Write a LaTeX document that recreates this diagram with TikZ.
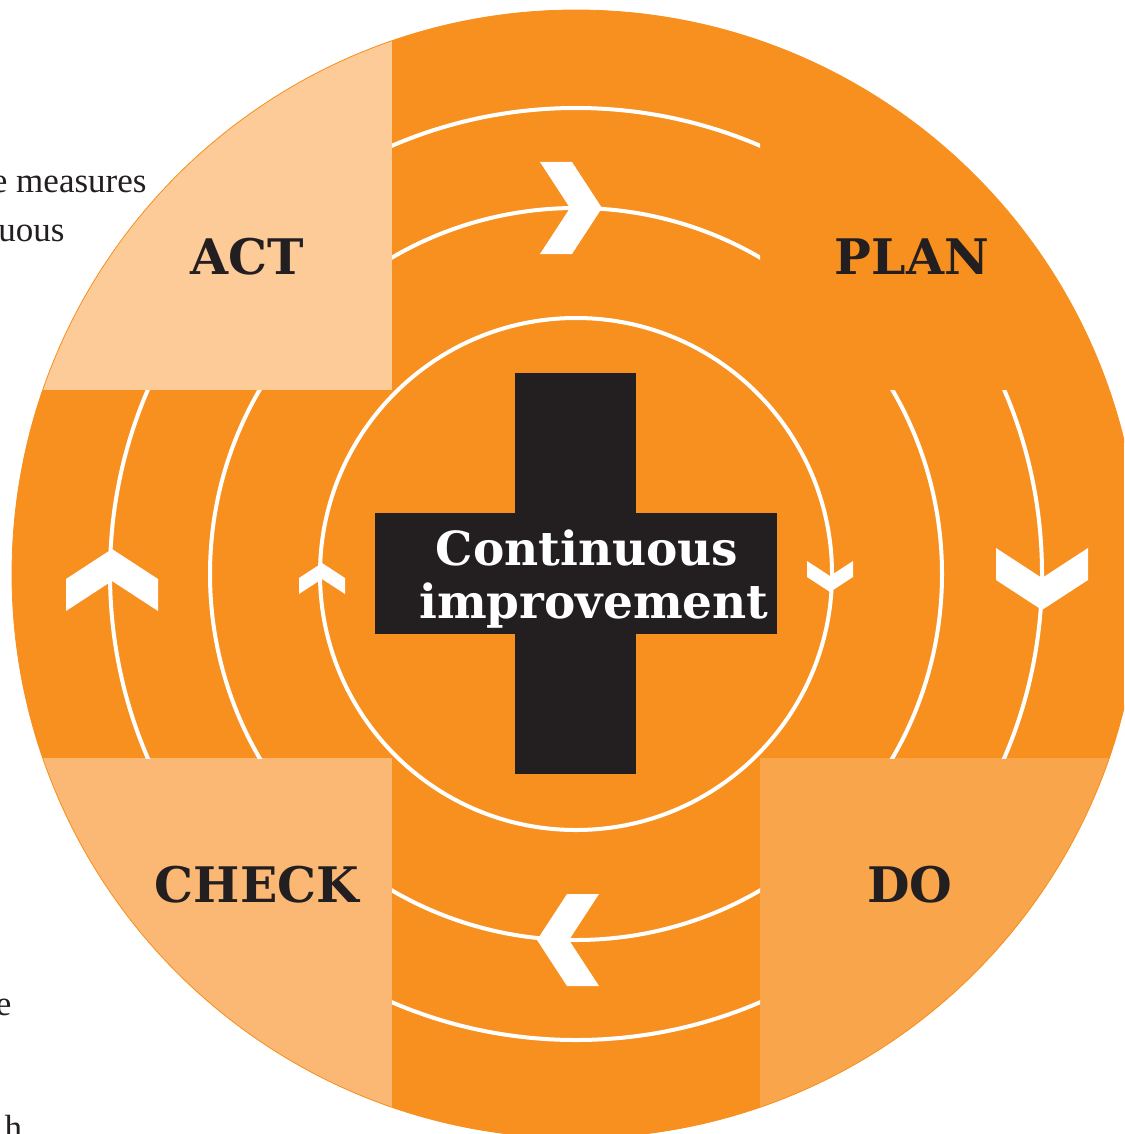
\documentclass[tikz,border=0pt]{standalone}
\usepackage{fontspec}
\usepackage{tikz}
\newfontfamily\phasefont{DejaVu Serif}
\newfontfamily\pagefont{Liberation Serif}
\definecolor{cycleorange}{HTML}{F7901E}
\definecolor{actfill}{HTML}{FDCB98}
\definecolor{checkfill}{HTML}{FBB875}
\definecolor{dofill}{HTML}{F9A54B}
\definecolor{inkblack}{HTML}{231F20}
\tikzset{
phase/.style={text=inkblack, font=\phasefont\bfseries\fontsize{49}{55}\selectfont, anchor=base}, % the four PDCA labels
centretext/.style={text=white, font=\phasefont\bfseries\fontsize{47}{53}\selectfont, anchor=base}, % text on the cross
track/.style={draw=white, line width=4pt}, % white circular paths
pagetext/.style={text=inkblack, font=\pagefont\fontsize{35}{48}\selectfont}, % cut off text of the page
chevron/.pic={\fill[white] (0,0) -- (-30,-46) -- (-62,-46) -- (-32,0) -- (-62,46) -- (-30,46) -- cycle;}, % arrow head on a path
}

\begin{document}
\begin{tikzpicture}[x=1pt, y=-1pt]
\useasboundingbox (0,0) rectangle (1124,1134);
\clip (0,0) rectangle (1124,1134);
\coordinate (hub) at (576,574);

% the disc and its four quarters
\begin{scope}
\clip (hub) circle (564pt);
\fill[cycleorange] (0,0) rectangle (1124,1134);
\fill[actfill] (0,0) rectangle (392,390);
\fill[checkfill] (0,758) rectangle (392,1134);
\fill[dofill] (760,758) rectangle (1124,1134);
\end{scope}
\draw[cycleorange, line width=0.8pt] (hub) circle (564pt);

% white paths
\begin{scope}
\clip (392,0) rectangle (760,1134);
\draw[track] (hub) circle (466pt) (hub) circle (366pt);
\end{scope}
\begin{scope}
\clip (0,390) rectangle (1124,758);
\draw[track] (hub) circle (466pt) (hub) circle (366pt);
\end{scope}
\draw[track] (hub) circle (256pt);

\pic at (602,208) {chevron};
\pic[rotate=180] at (537,940) {chevron};
\pic[rotate=-90] at (1042,610) {chevron};
\pic[rotate=90] at (112,549) {chevron};
\pic[rotate=-90, scale=0.5] at (830,592) {chevron};
\pic[rotate=90, scale=0.5] at (322,563) {chevron};

% the cross
\fill[inkblack] (515,373) rectangle (636,774);
\fill[inkblack] (375,513) rectangle (777,634);
\node[centretext] (cont) at (587,565) {Continuous};
\node[centretext] (impr) at (594,618) {improvement};

\node[phase] (act) at (247,274) {ACT};
\node[phase] (plan) at (912,274) {PLAN};
\node[phase] (check) at (257,902) {CHECK};
\node[phase] (do) at (910,902) {DO};

% text of the page beside the disc
\node[pagetext, anchor=base east] (line1) at (150,193) {e measures};
\node[pagetext, anchor=base east] (line2) at (68,241) {uous};
\node[pagetext, anchor=base east] (line3) at (15,1015) {e};
\node[pagetext, anchor=base west] (line4) at (1,1139) {h};
\end{tikzpicture}
\end{document}
